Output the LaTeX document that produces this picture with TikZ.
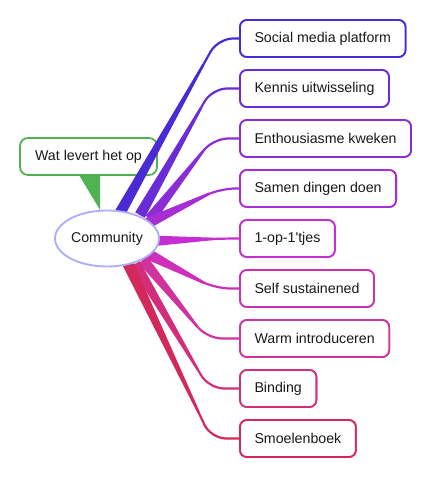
\documentclass[tikz,border=0pt]{standalone}
\usepackage{fontspec}
\setmainfont{Liberation Sans}
\usetikzlibrary{calc,shapes.geometric}
\definecolor{ca}{RGB}{74,42,212}
\definecolor{cb}{RGB}{106,44,214}
\definecolor{cc}{RGB}{138,45,214}
\definecolor{cd}{RGB}{168,45,212}
\definecolor{ce}{RGB}{198,45,210}
\definecolor{cf}{RGB}{204,48,184}
\definecolor{cg}{RGB}{208,50,158}
\definecolor{ch}{RGB}{210,46,124}
\definecolor{ci}{RGB}{210,40,92}
\definecolor{cgreen}{RGB}{80,178,80}
\definecolor{cell}{RGB}{172,172,250}
\definecolor{txt}{RGB}{25,25,25}
\newcommand\branchdraw[4]{%
  \coordinate (#1s) at (#3);
  \coordinate (#1c) at (#4,0 |- #1.west);
  \coordinate (#1p) at ($(#1s)!0.85!(#1c)$);
  \fill[#2] ($(#1s)!5.5pt!90:(#1c)$) -- ($(#1p)!1.2pt!-90:(#1s)$) -- ($(#1p)!1.2pt!90:(#1s)$) -- ($(#1s)!5.5pt!-90:(#1c)$) -- cycle;
  \draw[#2, line width=2.2pt, rounded corners=15pt] (#1s) -- (#1c) -- (#1.west);
}
\begin{document}
\begin{tikzpicture}[x=1pt,y=-1pt,
  every node/.style={font=\fontsize{14.2}{16}\selectfont, text=txt},
  leaf/.style={draw=#1, fill=white, line width=1.8pt, rounded corners=7pt,
    minimum height=37pt, inner xsep=14.5pt, outer sep=0pt, anchor=west}]
\useasboundingbox (0,0) rectangle (431,478);
% leaf nodes (placed first for coordinates, redrawn later on top)
\path
  (240,38.5) node[leaf=ca] (n1) {Social media platform}
  (240,88.5) node[leaf=cb] (n2) {Kennis uitwisseling}
  (240,138.5) node[leaf=cc] (n3) {Enthousiasme kweken}
  (240,188.5) node[leaf=cd] (n4) {Samen dingen doen}
  (240,238.5) node[leaf=ce] (n5) {1-op-1\textquotesingle tjes}
  (240,288.5) node[leaf=cf] (n6) {Self sustainened}
  (240,338.5) node[leaf=cg] (n7) {Warm introduceren}
  (240,388.5) node[leaf=ch] (n8) {Binding}
  (240,438.5) node[leaf=ci] (n9) {Smoelenboek};
% callout
\coordinate (t1) at (79,175);
\coordinate (t2) at (100,175);
\coordinate (t3) at (100,210);
\fill[cgreen] (t1) -- (t2) -- (t3) -- cycle;
\node[draw=cgreen, fill=white, line width=1.8pt, rounded corners=8pt,
  minimum width=137pt, minimum height=37pt, outer sep=0pt] (w) at (88.5,156.5) {Wat levert het op};
% branches
\branchdraw{n1}{ca}{120,213}{218}
\branchdraw{n2}{cb}{140,215}{212}
\branchdraw{n3}{cc}{150,219}{213}
\branchdraw{n4}{cd}{148,223}{220}
\branchdraw{n5}{ce}{150,241}{225}
\branchdraw{n6}{cf}{148,254}{215}
\branchdraw{n7}{cg}{143,260}{207}
\branchdraw{n8}{ch}{135,264}{209}
\branchdraw{n9}{ci}{128,264}{211}
% central node
\node[ellipse, draw=cell, fill=white, line width=1.8pt, minimum width=104pt,
  minimum height=56pt, inner sep=0pt] (c) at (107,238.5) {Community};
% redraw leaves on top
\path
  (240,38.5) node[leaf=ca] {Social media platform}
  (240,88.5) node[leaf=cb] {Kennis uitwisseling}
  (240,138.5) node[leaf=cc] {Enthousiasme kweken}
  (240,188.5) node[leaf=cd] {Samen dingen doen}
  (240,238.5) node[leaf=ce] {1-op-1\textquotesingle tjes}
  (240,288.5) node[leaf=cf] {Self sustainened}
  (240,338.5) node[leaf=cg] {Warm introduceren}
  (240,388.5) node[leaf=ch] {Binding}
  (240,438.5) node[leaf=ci] {Smoelenboek};
\end{tikzpicture}
\end{document}
